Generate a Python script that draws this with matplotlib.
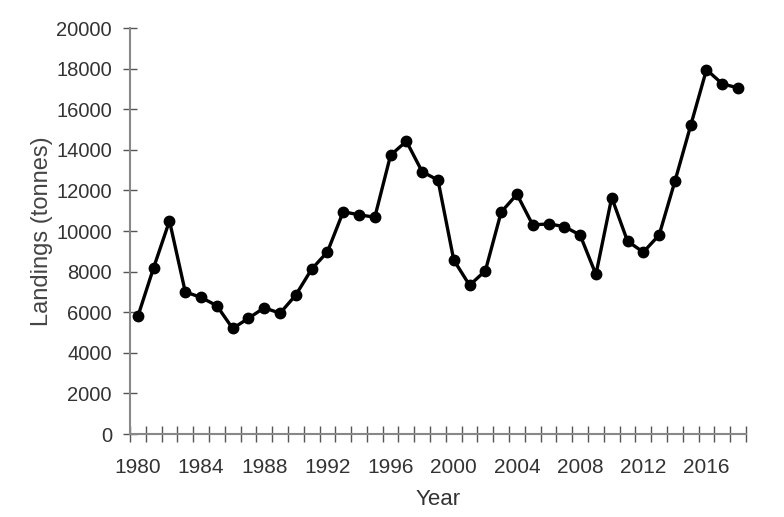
import matplotlib
matplotlib.use("Agg")
import matplotlib.pyplot as plt
import numpy as np

years = list(range(1980, 2019))
landings = [5800, 8200, 10500, 7000, 6730, 6320, 5200, 5700, 6220, 5950,
            6850, 8120, 8970, 10950, 10800, 10680, 13740, 14420, 12920, 12510,
            8570, 7330, 8040, 10930, 11810, 10300, 10350, 10220, 9800, 7860,
            11650, 9500, 8960, 9800, 12450, 15200, 17950, 17250, 17050]
label_years = years[::4]
y_ticks = list(range(0, 20001, 2000))

plt.rcParams['font.family'] = ['Liberation Sans', 'DejaVu Sans']

fig = plt.figure(figsize=(7.84, 5.17), dpi=100)
ax = fig.add_axes([0.1658, 0.1605, 0.7857, 0.7853])

# category axis: one slot per year, ticks between slots
pos = np.arange(len(years))
ax.plot(pos, landings, color='black', lw=2.4, marker='o', ms=7.5)

ax.set_xlim(-0.5, len(years) - 0.5)
ax.set_ylim(0, 20000)

ax.set_xticks([years.index(y) for y in label_years])
ax.set_xticklabels([str(y) for y in label_years])
ax.set_xticks(np.arange(-0.5, len(years)), minor=True)
ax.tick_params(axis='x', which='major', length=0, pad=17, labelsize=15,
               labelcolor='#333333')
ax.tick_params(axis='x', which='minor', direction='inout', length=11,
               width=1, color='#555555')

ax.set_yticks(y_ticks)
ax.tick_params(axis='y', direction='inout', length=10, width=1,
               color='#555555', labelsize=14.5, labelcolor='#333333', pad=8)

for side in ['top', 'right']:
  ax.spines[side].set_visible(False)
for side in ['left', 'bottom']:
  ax.spines[side].set_color('#888888')
  ax.spines[side].set_linewidth(1.5)

ax.set_xlabel('Year', fontsize=16, color='#333333', labelpad=9)
ax.set_ylabel('Landings (tonnes)', fontsize=17, color='#444444', labelpad=2)

fig.savefig('out.png', dpi=100)
